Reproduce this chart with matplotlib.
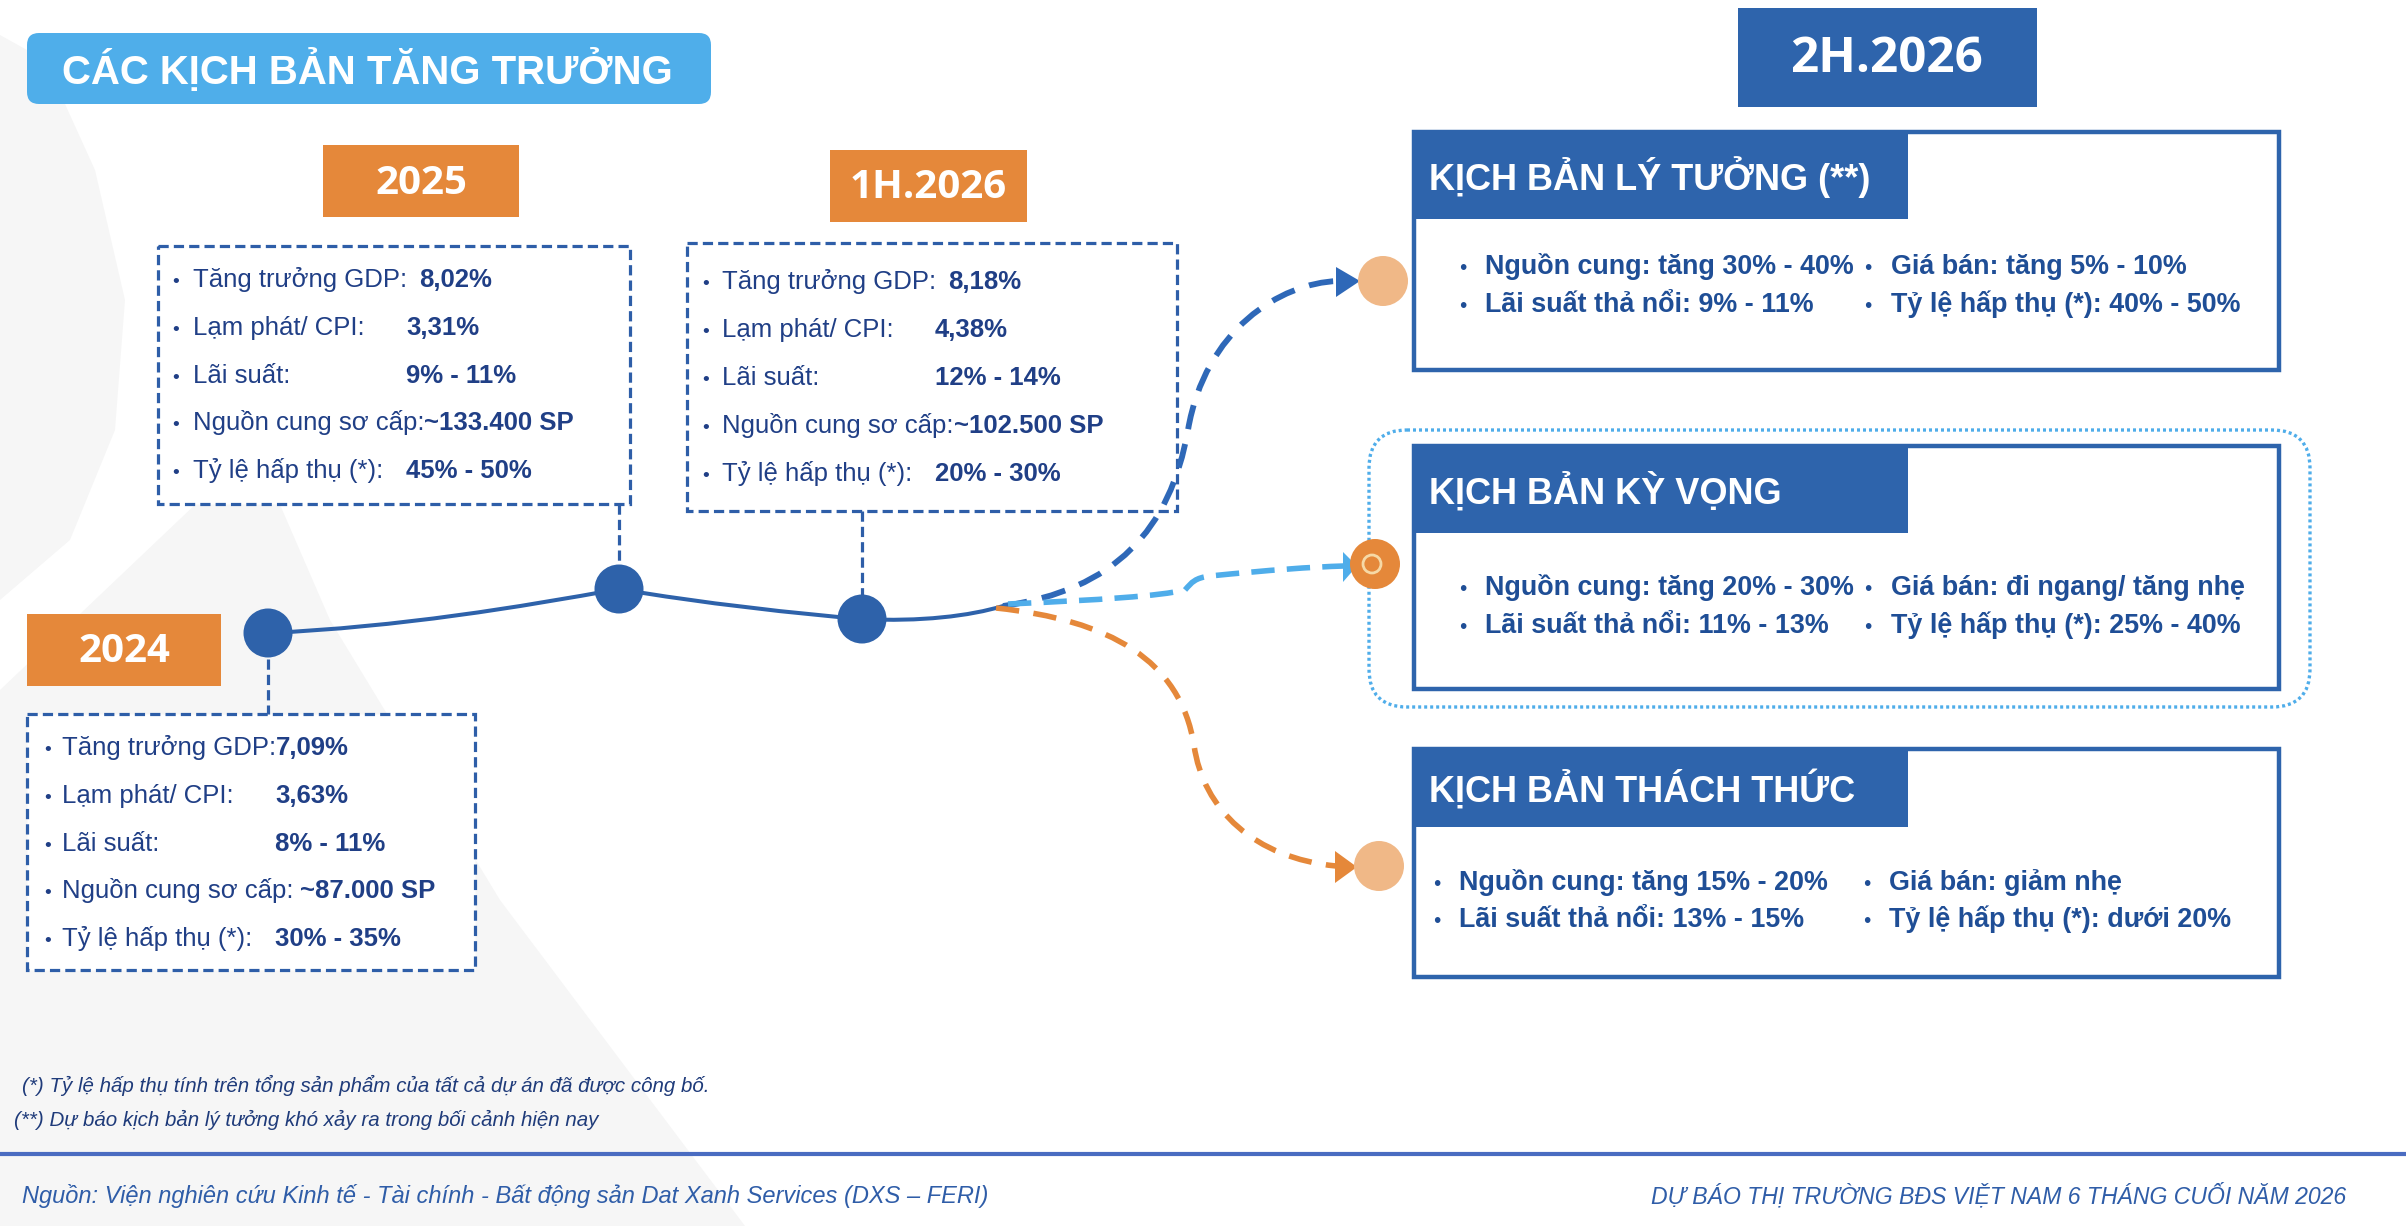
import matplotlib
matplotlib.use("Agg")
import matplotlib.pyplot as plt
from matplotlib.patches import Rectangle, FancyBboxPatch, Circle, Polygon, PathPatch
from matplotlib.path import Path

# ---------------- data ----------------
periods = ["2024", "2025", "1H.2026"]
indicator_labels = ["Tăng trưởng GDP:", "Lạm phát/ CPI:", "Lãi suất:",
                    "Nguồn cung sơ cấp:", "Tỷ lệ hấp thụ (*):"]
values_2024 = ["7,09%", "3,63%", "8% - 11%", "~87.000 SP", "30% - 35%"]
values_2025 = ["8,02%", "3,31%", "9% - 11%", "~133.400 SP", "45% - 50%"]
values_1h2026 = ["8,18%", "4,38%", "12% - 14%", "~102.500 SP", "20% - 30%"]
period_values = [values_2024, values_2025, values_1h2026]

forecast_period = "2H.2026"
scenario_titles = ["KỊCH BẢN LÝ TƯỞNG (**)", "KỊCH BẢN KỲ VỌNG", "KỊCH BẢN THÁCH THỨC"]
scenario_supply = ["Nguồn cung: tăng 30% - 40%", "Nguồn cung: tăng 20% - 30%",
                   "Nguồn cung: tăng 15% - 20%"]
scenario_rate = ["Lãi suất thả nổi: 9% - 11%", "Lãi suất thả nổi: 11% - 13%",
                 "Lãi suất thả nổi: 13% - 15%"]
scenario_price = ["Giá bán: tăng 5% - 10%", "Giá bán: đi ngang/ tăng nhẹ",
                  "Giá bán: giảm nhẹ"]
scenario_absorption = ["Tỷ lệ hấp thụ (*): 40% - 50%", "Tỷ lệ hấp thụ (*): 25% - 40%",
                       "Tỷ lệ hấp thụ (*): dưới 20%"]

title_text = "CÁC KỊCH BẢN TĂNG TRƯỞNG"
footnote_1 = "(*) Tỷ lệ hấp thụ tính trên tổng sản phẩm của tất cả dự án đã được công bố."
footnote_2 = "(**) Dự báo kịch bản lý tưởng khó xảy ra trong bối cảnh hiện nay"
source_text = "Nguồn: Viện nghiên cứu Kinh tế - Tài chính - Bất động sản Dat Xanh Services (DXS – FERI)"
footer_text = "DỰ BÁO THỊ TRƯỜNG BĐS VIỆT NAM 6 THÁNG CUỐI NĂM 2026"

# ---------------- styles / layout ----------------
W, H = 2406, 1226
SANS = ["Liberation Sans", "DejaVu Sans"]
HEAD = ["Open Sans", "Liberation Sans", "DejaVu Sans"]
ORANGE = "#E5883A"
LIGHT_ORANGE = "#F0B887"
DARK_BLUE = "#2E64AC"
NAVY_TEXT = "#203F86"
SKY = "#4FADEA"
NODE = "#2E62AA"

period_layout = [
    dict(tag=(27, 614, 221, 686), box=(27, 714, 475, 970), bullet_x=44, text_x=62,
         col_x=275, row0=748, dy=47.8, node=(268, 633), gaps=[0, None, None, 7, None],
         stem=(659, 714)),
    dict(tag=(323, 145, 519, 217), box=(158, 246, 630, 504), bullet_x=172, text_x=193,
         col_x=406, row0=280, dy=47.8, node=(619, 589), gaps=[12, None, None, 0, None],
         stem=(504, 565)),
    dict(tag=(830, 150, 1027, 222), box=(687, 243, 1177, 511), bullet_x=702, text_x=722,
         col_x=935, row0=282, dy=48.0, node=(862, 619), gaps=[12, None, None, 0, None],
         stem=(511, 595)),
]

scen_layout = [
    dict(box=(1414, 132, 2279, 370), head_bottom=219, rows=(267, 305), b1=1459, t1=1485,
         b2=1864, t2=1891, node=(1383, 281), node_color=LIGHT_ORANGE),
    dict(box=(1414, 446, 2279, 689), head_bottom=533, rows=(588, 626), b1=1459, t1=1485,
         b2=1864, t2=1891, node=(1375, 564), node_color=ORANGE),
    dict(box=(1414, 749, 2279, 977), head_bottom=827, rows=(883, 920), b1=1433, t1=1459,
         b2=1863, t2=1889, node=(1379, 866), node_color=LIGHT_ORANGE),
]
head_right = 1908

fig = plt.figure(figsize=(W / 100, H / 100), dpi=100)
ax = fig.add_axes([0, 0, 1, 1])
ax.set_xlim(0, W)
ax.set_ylim(H, 0)
ax.axis("off")
fig.patch.set_facecolor("white")

# background subtle shapes
BG = "#F6F6F6"
ax.add_patch(Polygon([(0, 35), (45, 60), (95, 170), (125, 300), (115, 430), (70, 540), (0, 600)],
                     closed=True, facecolor=BG, edgecolor="none", zorder=0))
ax.add_patch(Polygon([(0, 690), (200, 500), (265, 470), (330, 620), (500, 900), (745, 1226), (0, 1226)],
                     closed=True, facecolor=BG, edgecolor="none", zorder=0))

# title
ax.add_patch(FancyBboxPatch((27, 33), 684, 71, boxstyle="round,pad=0,rounding_size=12",
                            facecolor="#4FAEEA", edgecolor="none", zorder=2))
ax.text(62, 70, title_text, color="white", fontsize=28.9, fontweight="bold", family=SANS,
        va="center", ha="left", zorder=3)

renderer = fig.canvas.get_renderer()
inv = ax.transData.inverted()

# main timeline
C4 = Path.CURVE4
n0, n1, n2 = [pl["node"] for pl in period_layout]
end_pt = (1003, 606)
main_pts = [n0, (400, 627), (520, 607), n1, (700, 603), (800, 614), n2, (920, 622), (970, 616), end_pt]
main_codes = [Path.MOVETO, C4, C4, C4, C4, C4, C4, C4, C4, C4]
ax.add_patch(PathPatch(Path(main_pts, main_codes), facecolor="none", edgecolor=NODE,
                       lw=2.9, zorder=3, capstyle="round"))

# scenario connectors
blue_pts = [end_pt, (1115, 590), (1170, 530), (1188, 430), (1205, 330), (1280, 283), (1338, 281)]
ax.add_patch(PathPatch(Path(blue_pts, [Path.MOVETO, C4, C4, C4, C4, C4, C4]), facecolor="none",
                       edgecolor="#2E68B8", lw=4.2, linestyle=(0, (4.2, 2.6)), zorder=3))
ax.add_patch(Polygon([(1336, 267), (1360, 281), (1336, 297)], closed=True, facecolor="#2E68B8",
                     edgecolor="none", zorder=4))

sky_pts = [(1008, 604), (1100, 600), (1160, 596), (1185, 590), (1192, 582), (1195, 578), (1210, 576),
           (1270, 570), (1310, 567), (1344, 566)]
ax.add_patch(PathPatch(Path(sky_pts, [Path.MOVETO, C4, C4, C4, C4, C4, C4, C4, C4, C4]),
                       facecolor="none", edgecolor=SKY, lw=4.0, linestyle=(0, (4.2, 2.2)), zorder=3))
ax.add_patch(Polygon([(1343, 552), (1357, 566), (1343, 582)], closed=True, facecolor=SKY,
                     edgecolor="none", zorder=4))

orange_pts = [(996, 608), (1110, 620), (1180, 660), (1194, 745), (1203, 810), (1255, 858), (1336, 866)]
ax.add_patch(PathPatch(Path(orange_pts, [Path.MOVETO, C4, C4, C4, C4, C4, C4]), facecolor="none",
                       edgecolor=ORANGE, lw=4.0, linestyle=(0, (4.2, 2.6)), zorder=3))
ax.add_patch(Polygon([(1335, 851), (1357, 867), (1335, 883)], closed=True, facecolor=ORANGE,
                     edgecolor="none", zorder=4))

# period boxes
for period, vals, pl in zip(periods, period_values, period_layout):
    x0, y0, x1, y1 = pl["tag"]
    ax.add_patch(Rectangle((x0, y0), x1 - x0, y1 - y0, facecolor=ORANGE, edgecolor="none", zorder=2))
    ax.text((x0 + x1) / 2, (y0 + y1) / 2 + 2, period, color="white", fontsize=29, fontweight="bold",
            family=HEAD, ha="center", va="center", zorder=3)
    bx0, by0, bx1, by1 = pl["box"]
    ax.add_patch(Rectangle((bx0, by0), bx1 - bx0, by1 - by0, facecolor="white", edgecolor="#2E5EA8",
                           lw=2.3, linestyle=(0, (3.2, 1.6)), zorder=2))
    nx, ny = pl["node"]
    s0, s1 = pl["stem"]
    ax.plot([nx, nx], [s0, s1], color="#2E5EA8", lw=2.3, linestyle=(0, (3.2, 1.6)), zorder=2)
    ax.add_patch(Circle((nx, ny), 24.5, facecolor=NODE, edgecolor="none", zorder=5))
    for i, (lab, val) in enumerate(zip(indicator_labels, vals)):
        yb = pl["row0"] + i * pl["dy"] + 7
        ax.text(pl["bullet_x"], yb, "•", color=NAVY_TEXT, fontsize=14, family=SANS,
                ha="left", va="baseline", zorder=3)
        t = ax.text(pl["text_x"], yb, lab, color=NAVY_TEXT, fontsize=18.5, family=SANS,
                    ha="left", va="baseline", zorder=3)
        gap = pl["gaps"][i]
        if gap is None:
            vx = pl["col_x"]
        else:
            bb = t.get_window_extent(renderer)
            vx = inv.transform((bb.x1, bb.y0))[0] + gap
        ax.text(vx, yb, val, color=NAVY_TEXT, fontsize=18.5, fontweight="bold", family=SANS,
                ha="left", va="baseline", zorder=3)

# forecast tag
ax.add_patch(Rectangle((1738, 8), 299, 99, facecolor=DARK_BLUE, edgecolor="none", zorder=2))
ax.text(1887, 60, forecast_period, color="white", fontsize=35.5, fontweight="bold", family=HEAD,
        ha="center", va="center", zorder=3)

# dotted highlight around the expected scenario
ax.add_patch(FancyBboxPatch((1369, 430), 941, 277, boxstyle="round,pad=0,rounding_size=38",
                            facecolor="none", edgecolor=SKY, lw=2.4, linestyle=(0, (0.9, 0.9)),
                            zorder=2))

# scenario boxes
for i, sl in enumerate(scen_layout):
    x0, y0, x1, y1 = sl["box"]
    ax.add_patch(Rectangle((x0, y0), x1 - x0, y1 - y0, facecolor="white", edgecolor=DARK_BLUE,
                           lw=3.2, zorder=2))
    ax.add_patch(Rectangle((x0, y0), head_right - x0, sl["head_bottom"] - y0, facecolor=DARK_BLUE,
                           edgecolor="none", zorder=3))
    ax.text(x0 + 15, (y0 + sl["head_bottom"]) / 2 + 2, scenario_titles[i], color="white",
            fontsize=26, fontweight="bold", family=SANS, ha="left", va="center", zorder=4)
    r1, r2 = sl["rows"]
    for (bx, tx), texts in (((sl["b1"], sl["t1"]), (scenario_supply[i], scenario_rate[i])),
                            ((sl["b2"], sl["t2"]), (scenario_price[i], scenario_absorption[i]))):
        for yy, s in zip((r1, r2), texts):
            ax.text(bx, yy + 7, "•", color="#1F4E96", fontsize=15, family=SANS, ha="left",
                    va="baseline", zorder=4)
            ax.text(tx, yy + 7, s, color="#1F4E96", fontsize=19.4, fontweight="bold", family=SANS,
                    ha="left", va="baseline", zorder=4)
    nx, ny = sl["node"]
    ax.add_patch(Circle((nx, ny), 25, facecolor=sl["node_color"], edgecolor="none", zorder=5))
    if sl["node_color"] == ORANGE:
        ax.add_patch(Circle((nx - 3, ny), 9, facecolor="none", edgecolor="#F6D9A6", lw=2.0, zorder=6))

# footnotes and footer
ax.text(22, 1085, footnote_1, color="#1F3B7A", fontsize=14.8, style="italic", family=SANS,
        ha="left", va="center", zorder=3)
ax.text(14, 1120, footnote_2, color="#1F3B7A", fontsize=14.8, style="italic", family=SANS,
        ha="left", va="center", zorder=3)
ax.plot([0, W], [1154, 1154], color="#4A6CC1", lw=3.0, zorder=3, solid_capstyle="butt")
ax.text(22, 1196, source_text, color="#2F5DA8", fontsize=17, style="italic", family=SANS,
        ha="left", va="center", zorder=3)
ax.text(2346, 1196, footer_text, color="#2F5DA8", fontsize=16.6, style="italic", family=SANS,
        ha="right", va="center", zorder=3)

fig.savefig("out.png", dpi=100, facecolor="white")
